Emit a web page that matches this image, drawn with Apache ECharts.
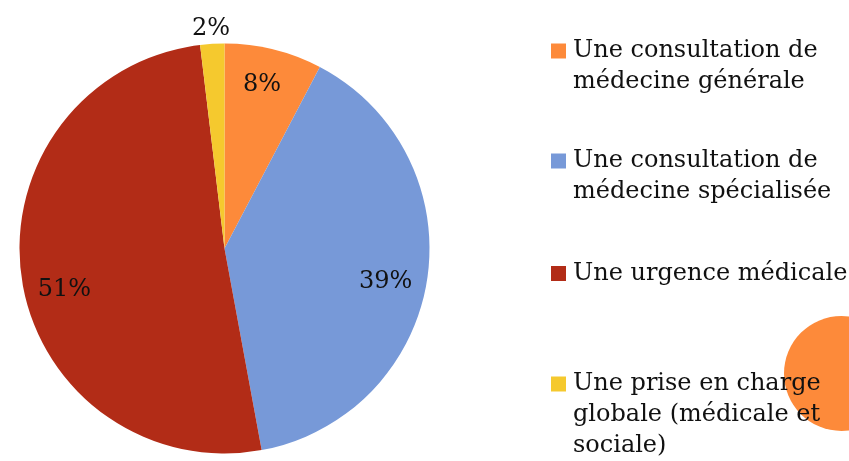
<!DOCTYPE html>
<html>
<head>
<meta charset="utf-8">
<script src="https://cdn.jsdelivr.net/npm/echarts@6/dist/echarts.min.js"></script>
<style>
  html, body { margin: 0; padding: 0; background: #fff; }
  #chart { width: 849px; height: 461px; }
</style>
</head>
<body>
<div id="chart"></div>
<script>
// legend text, one array per item (each entry is a line)
const categoryLines = [
  ['Une consultation de', 'médecine générale'],
  ['Une consultation de', 'médecine spécialisée'],
  ['Une urgence médicale'],
  ['Une prise en charge', 'globale (médicale et', 'sociale)']
]
const categories = categoryLines.map(l => l.join(' '))
// share of answers (%)
const shares = [7.7, 39.4, 51.0, 1.9]
const colors = ['#FD8A3A', '#7799D8', '#B22C17', '#F5C92E']

const FONT = 'DejaVu Serif'
const FS = 24
const LH = 31
const CX = 224.5, CY = 248.5, R = 205
const legendIconY = [51, 161, 273.5, 384]
// small nudges so labels sit where the original placed them
const labelNudge = [[-3, 0], [-6, 8], [7, 16], [0, 5]]

const chart = echarts.init(document.getElementById('chart'))

const pieData = categories.map((name, i) => ({ name: name, value: shares[i] }))
const pctLabel = p => Math.round(p.percent) + '%'
const nudge = p => ({ dx: labelNudge[p.dataIndex][0], dy: labelNudge[p.dataIndex][1] })

// one legend per item so every item keeps its own slot;
// legend text is centred on the square, so blank lines on top
// bring the first real line level with it
const legends = categories.map((name, i) => {
  const n = categoryLines[i].length
  return {
    orient: 'vertical',
    left: 551,
    top: legendIconY[i] - (2 * n - 1) * LH / 2,
    padding: 0,
    itemWidth: 15,
    itemHeight: 15,
    icon: 'rect',
    selectedMode: false,
    z: 5,
    data: [name],
    formatter: nm => {
      const lines = categoryLines[categories.indexOf(nm)]
      return new Array(lines.length - 1).fill(' ').concat(lines).join('\n')
    },
    textStyle: {
      fontFamily: FONT, fontSize: FS, lineHeight: LH, color: '#111',
      padding: [0, 0, 0, 2]
    }
  }
})

chart.setOption({
  animation: false,
  color: colors,
  legend: legends,
  graphic: [{
    type: 'circle',
    z: 1,
    shape: { cx: 841.5, cy: 373.5, r: 57.5 },
    style: { fill: '#FD8A3A' }
  }],
  series: [
    {
      type: 'pie',
      center: [CX, CY],
      radius: R,
      startAngle: 90,
      clockwise: true,
      silent: true,
      label: { show: false },
      labelLine: { show: false },
      data: pieData
    },
    {
      // transparent ring that only carries the inner labels
      type: 'pie',
      center: [CX, CY],
      radius: [R * 0.62, R],
      startAngle: 90,
      silent: true,
      itemStyle: { color: 'rgba(0,0,0,0)' },
      label: {
        show: true,
        position: 'inside',
        formatter: pctLabel,
        fontFamily: FONT, fontSize: FS, color: '#111'
      },
      labelLine: { show: false },
      labelLayout: nudge,
      data: pieData.map((d, i) => i === 3 ? { ...d, label: { show: false } } : d)
    },
    {
      // outer ring for the small slice label above the pie
      type: 'pie',
      center: [CX, CY],
      radius: [R, R + 35],
      startAngle: 90,
      silent: true,
      itemStyle: { color: 'rgba(0,0,0,0)' },
      label: {
        show: true,
        position: 'inside',
        formatter: pctLabel,
        fontFamily: FONT, fontSize: FS, color: '#111'
      },
      labelLine: { show: false },
      labelLayout: nudge,
      data: pieData.map((d, i) => i === 3 ? d : { ...d, label: { show: false } })
    }
  ]
})
</script>
</body>
</html>
